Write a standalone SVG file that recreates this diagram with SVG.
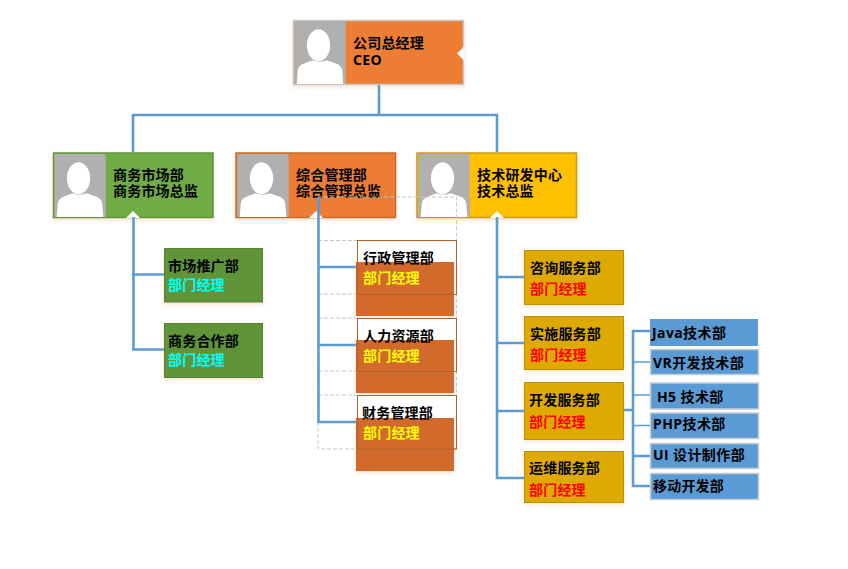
<svg xmlns="http://www.w3.org/2000/svg" width="848" height="569" viewBox="0 0 848 569">
<style>
text{font-family:"Liberation Sans","Noto Sans CJK SC",sans-serif;font-size:14px;font-weight:700;fill:#000;letter-spacing:.2px}
.lat{font-family:"Open Sans","Noto Sans CJK SC",sans-serif;letter-spacing:.4px}
.cyan{fill:#00ffff}.yel{fill:#ffff00}.red{fill:#ff0000}
.photo{fill:#b0b0b0}
.soft{filter:url(#soft)}
.wire{fill:none;stroke:#5b9bd5;stroke-width:2.6}
.thin{fill:none;stroke:#5b9bd5;stroke-width:1.4}
.dash{fill:none;stroke:#c8c8c8;stroke-width:1;stroke-dasharray:4 2}
.grn1{fill:#70ad47;stroke:#5f9439;stroke-width:1.5}
.grn2{fill:#5f9439;stroke:#548235;stroke-width:1}
.org1{fill:#ed7d31;stroke:#c4692a;stroke-width:1.5}
.org2{fill:#d16b2c}
.gld1{fill:#ffc000;stroke:#c99a10;stroke-width:1.5}
.gld2{fill:#dea900;stroke:#bd9000;stroke-width:1}
.blu{fill:#5b9bd5;stroke:#c5ccd3;stroke-width:1.5}
.out{fill:#fff;stroke:#b0602a;stroke-width:1}
.edge{fill:none;stroke:#b0602a;stroke-width:1}
</style>
<defs>
<filter id="soft" x="-10%" y="-10%" width="120%" height="125%"><feDropShadow dx="0" dy="2" stdDeviation="2" flood-color="#e8a060" flood-opacity="0.3"/></filter>
<!-- portrait placeholder: 53 x 65 tile -->
<symbol id="person" width="53" height="65" viewBox="0 0 53 65" overflow="visible">
<rect class="photo" width="53" height="65"/>
<path d="M2.500 65L3.500 52C4 46 7 45 12 43L19 40.500C23 42.500 29 42.500 33 40.500L41 43C46 45 49 46 49.500 52L50.500 65Z" fill="#fff"/>
<ellipse cx="25" cy="25" rx="12" ry="16.500" fill="#fff"/>
</symbol>
</defs>

<g id="ceo">
<rect class="org1 soft" x="293.500" y="20.500" width="170" height="64" style="stroke:#c9c9c9"/>
<use href="#person" x="294" y="21" width="52" height="63"/>
<path d="M464.500 46L457 53.500L464.500 61Z" fill="#fff"/>
<text x="353" y="48">公司总经理</text>
<text x="353" y="65" class="lat">CEO</text>
</g>

<g id="market">
<rect class="grn1 soft" x="53.500" y="153" width="159.500" height="64.500"/>
<use href="#person" x="54" y="154" width="52" height="63"/>
<path d="M126 218L133 211L140 218Z" fill="#fff"/>
<text x="113" y="180">商务市场部</text>
<text x="113" y="196">商务市场总监</text>
</g>

<g id="admin">
<rect class="org1 soft" x="236" y="153" width="159.500" height="64.500"/>
<use href="#person" x="237" y="154" width="52" height="63"/>
<path d="M309 218L316 211L323 218Z" fill="#fff"/>
<text x="296" y="180">综合管理部</text>
<text x="296" y="196">综合管理总监</text>
</g>

<g id="tech">
<rect class="gld1 soft" x="417" y="153" width="159.500" height="64.500"/>
<use href="#person" x="418" y="154" width="52" height="63"/>
<path d="M490 218L497 211L504 218Z" fill="#fff"/>
<text x="477" y="180">技术研发中心</text>
<text x="477" y="196">技术总监</text>
</g>

<g id="connectors">
<path class="wire" d="M379 85V115M133 152V115H497V152"/>
<path class="wire" d="M133.500 217V350M132 274.500H164M132 349.500H164"/>
<path class="dash" d="M318 197H456.500V449H318ZM318 240.500H357M318 294H357M318 318H357M318 371H357M318 395H357"/>
<path class="wire" d="M318.500 197V422H357M318.500 267H357M318.500 345H357"/>
<path class="wire" d="M497 217V478H524M497 277H524M497 343H524M497 411H524"/>
<path class="wire" d="M624 410H633M651 331H633V486H651M633 456H651"/>
<path class="thin" d="M633 362H651M633 395H651M633 425.500H651"/>
</g>

<g id="promo">
<rect class="grn2 soft" x="164.500" y="248.500" width="98" height="53.500"/>
<text x="168" y="271">市场推广部</text>
<text x="168" y="290" class="cyan">部门经理</text>
</g>
<g id="partner">
<rect class="grn2 soft" x="164.500" y="323.500" width="98" height="54"/>
<text x="168" y="346">商务合作部</text>
<text x="168" y="365" class="cyan">部门经理</text>
</g>

<g id="office">
<rect class="out" x="357.500" y="240.500" width="99" height="54"/>
<rect class="org2 soft" x="356" y="262" width="98" height="54"/>
<path class="edge" d="M357.500 262V294.500H456.500"/>
<text x="363" y="263">行政管理部</text>
<text x="363" y="283" class="yel">部门经理</text>
</g>
<g id="hr">
<rect class="out" x="357.500" y="318.500" width="99" height="53"/>
<rect class="org2 soft" x="356" y="340" width="98" height="53"/>
<path class="edge" d="M357.500 340V371.500H456.500"/>
<text x="363" y="341">人力资源部</text>
<text x="363" y="361" class="yel">部门经理</text>
</g>
<g id="finance">
<rect class="out" x="357.500" y="395.500" width="99" height="53.500"/>
<rect class="org2 soft" x="356" y="418" width="98" height="53"/>
<path class="edge" d="M357.500 418V449H456.500"/>
<text x="362" y="418">财务管理部</text>
<text x="363" y="438" class="yel">部门经理</text>
</g>

<g id="consult">
<rect class="gld2 soft" x="524.500" y="250.500" width="99" height="54"/>
<text x="530" y="273">咨询服务部</text>
<text x="530" y="294" class="red">部门经理</text>
</g>
<g id="deploy">
<rect class="gld2 soft" x="524.500" y="316.500" width="99" height="53"/>
<text x="530" y="339">实施服务部</text>
<text x="530" y="360" class="red">部门经理</text>
</g>
<g id="dev">
<rect class="gld2 soft" x="524.500" y="382.500" width="99" height="57"/>
<text x="529" y="405">开发服务部</text>
<text x="529" y="427" class="red">部门经理</text>
</g>
<g id="ops">
<rect class="gld2 soft" x="524.500" y="451.500" width="99" height="51"/>
<text x="529" y="473">运维服务部</text>
<text x="529" y="495" class="red">部门经理</text>
</g>

<g id="java">
<rect x="650" y="319" width="108" height="27" fill="#5b9bd5"/>
<text x="652" y="338" class="lat">Java技术部</text>
</g>
<g id="vr">
<rect class="blu" x="650.500" y="349.500" width="108" height="25"/>
<text x="653" y="368" class="lat">VR开发技术部</text>
</g>
<g id="h5">
<rect class="blu" x="650.500" y="383" width="108" height="26"/>
<text x="657" y="402" class="lat">H5 技术部</text>
</g>
<g id="php">
<rect class="blu" x="650.500" y="413" width="108" height="25.500"/>
<text x="653" y="429" class="lat">PHP技术部</text>
</g>
<g id="ui">
<rect class="blu" x="650.500" y="443.500" width="108" height="25"/>
<text x="653" y="460" class="lat">UI 设计制作部</text>
</g>
<g id="mobile">
<rect class="blu" x="650.500" y="473.500" width="108" height="26"/>
<text x="653" y="491">移动开发部</text>
</g>
</svg>
